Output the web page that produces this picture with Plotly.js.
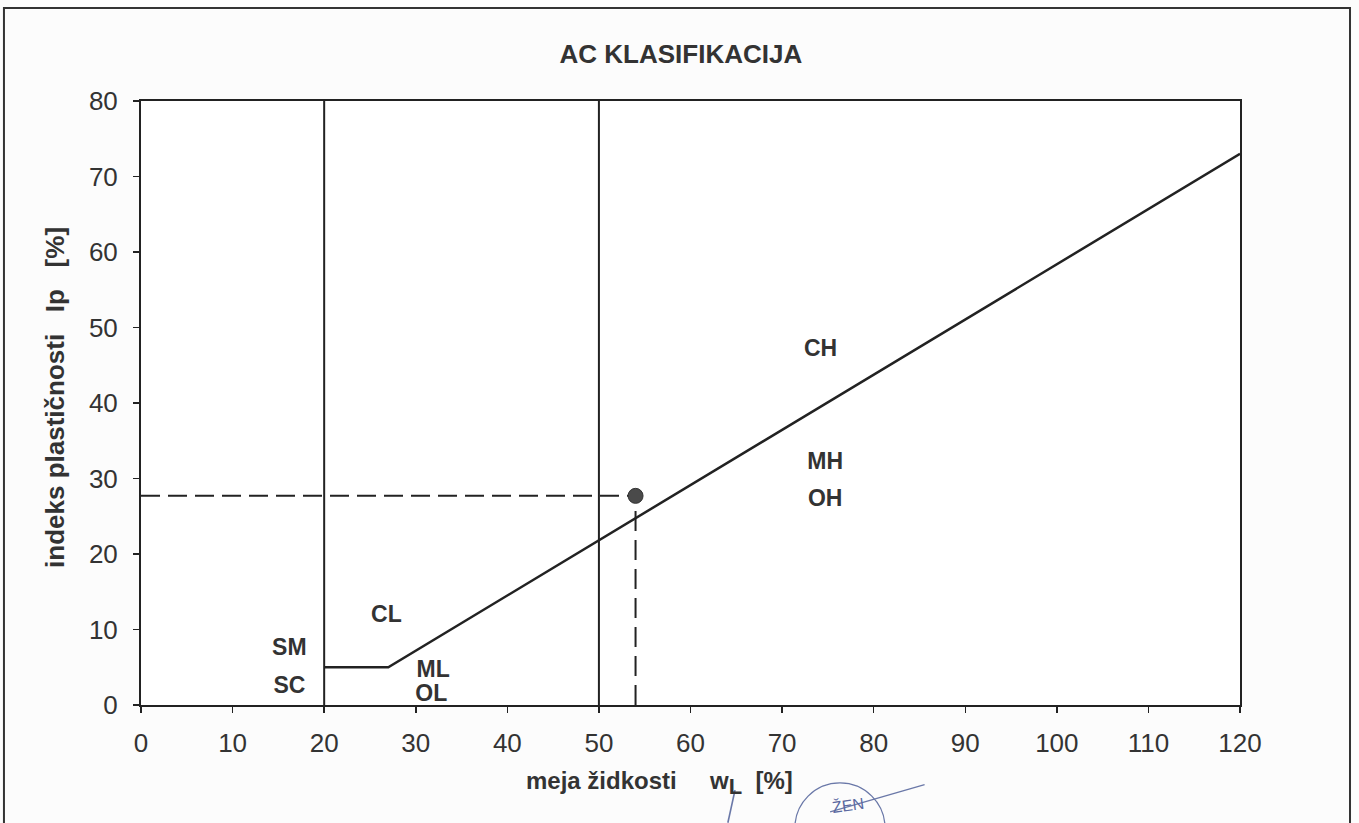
<!DOCTYPE html>
<html><head><meta charset="utf-8">
<script src="https://cdn.plot.ly/plotly-3.0.1.min.js"></script>
<style>html,body{margin:0;padding:0;background:#fcfcfc;}</style>
</head><body><div id="chart" style="width:1359px;height:823px;"></div>
<script>
// A-line (CL / ML boundary)
const aLineX = [20, 27, 120];
const aLineY = [5, 5, 73];
// Vertical boundaries wL = 20 and wL = 50
const v20X = [20, 20];
const v20Y = [0, 80];
const v50X = [50, 50];
const v50Y = [0, 80];
// Sample point
const sampleWL = [54];
const sampleIP = [27.7];
// Guide (dashed) lines
const guideHX = [0, 54];
const guideHY = [27.7, 27.7];
const guideVX = [54, 54];
const guideVY = [0, 27.7];
// Zone labels
const zoneText = ['CH', 'MH', 'OH', 'CL', 'SM', 'SC', 'ML', 'OL'];
const zoneX = [74.2, 74.7, 74.7, 26.8, 16.2, 16.2, 31.9, 31.7];
const zoneY = [47.0, 32.0, 27.1, 11.8, 7.4, 2.3, 4.5, 1.3];
const xTicks = [0, 10, 20, 30, 40, 50, 60, 70, 80, 90, 100, 110, 120];
const yTicks = [0, 10, 20, 30, 40, 50, 60, 70, 80];

const FONT = 'Liberation Sans, Arial, sans-serif';
const lineColor = '#222';
const textColor = '#333';
const traces = [
  {x: v20X, y: v20Y, mode: 'lines', line: {color: lineColor, width: 2}, hoverinfo: 'skip'},
  {x: v50X, y: v50Y, mode: 'lines', line: {color: lineColor, width: 2}, hoverinfo: 'skip'},
  {x: aLineX, y: aLineY, mode: 'lines', line: {color: lineColor, width: 2.5}, hoverinfo: 'skip'},
  {x: guideHX, y: guideHY, mode: 'lines', line: {color: lineColor, width: 2, dash: '19px,8px'}, hoverinfo: 'skip'},
  {x: guideVX, y: guideVY, mode: 'lines', line: {color: lineColor, width: 2, dash: '20px,9px'}, hoverinfo: 'skip'},
  {x: sampleWL, y: sampleIP, mode: 'markers', marker: {color: '#4a4a4a', size: 15, line: {color: '#333', width: 1}}},
  {x: zoneX, y: zoneY, mode: 'text', text: zoneText.map(t => '<b>' + t + '</b>'),
   textfont: {family: FONT, size: 23, color: textColor}, textposition: 'middle center', hoverinfo: 'skip'}
];

const layout = {
  width: 1359, height: 823,
  paper_bgcolor: '#fcfcfc', plot_bgcolor: '#ffffff',
  showlegend: false,
  margin: {l: 141, r: 119, t: 101, b: 118},
  font: {family: FONT, color: textColor},
  title: {text: '<b>AC KLASIFIKACIJA</b>', x: 0.501, xanchor: 'center', y: 0.934, yanchor: 'middle',
          font: {size: 26, color: textColor, family: FONT}},
  xaxis: {
    range: [0, 120], tickvals: xTicks, ticktext: xTicks.map(String),
    showgrid: false, zeroline: false, showline: true, linecolor: lineColor, linewidth: 2, mirror: true,
    ticks: 'outside', ticklen: 6, tickcolor: lineColor, tickwidth: 1.5,
    ticklabelstandoff: 8,
    tickfont: {size: 26, color: textColor}
  },
  yaxis: {
    range: [0, 80], tickvals: yTicks, ticktext: yTicks.map(String),
    showgrid: false, zeroline: false, showline: true, linecolor: lineColor, linewidth: 2, mirror: true,
    ticks: 'outside', ticklen: 6, tickcolor: lineColor, tickwidth: 1.5,
    ticklabelstandoff: 10,
    tickfont: {size: 26, color: textColor}
  },
  annotations: [
    {xref: 'paper', yref: 'paper', x: -0.0783, y: 0.51, xanchor: 'center', yanchor: 'middle',
     textangle: -90, showarrow: false,
     text: '<b>indeks plastičnosti   Ip   [%]</b>', font: {size: 26, color: textColor, family: FONT}},
    {xref: 'paper', yref: 'paper', x: 0.3485, y: -0.129, xanchor: 'left', yanchor: 'middle',
     showarrow: false,
     text: '<b>meja židkosti     w<sub><span style="font-size:22px">L</span></sub>  [%]</b>',
     font: {size: 24, color: textColor, family: FONT}},
    {xref: 'paper', yref: 'paper', x: 0.643, y: -0.165, xanchor: 'center', yanchor: 'middle',
     showarrow: false, textangle: -8, text: 'ŽEN', font: {size: 16, color: '#5a68a0', family: FONT}}
  ],
  shapes: [
    {type: 'rect', xref: 'paper', yref: 'paper', x0: -0.1247, x1: 1.1001, y0: -0.35, y1: 1.154,
     line: {color: '#333', width: 2}, layer: 'below'},
    {type: 'circle', xref: 'paper', yref: 'paper', x0: 0.595, x1: 0.677, y0: -0.278, y1: -0.129,
     line: {color: '#6a78a8', width: 1.3}},
    {type: 'line', xref: 'paper', yref: 'paper', x0: 0.627, x1: 0.713, y0: -0.177, y1: -0.132,
     line: {color: '#6a78a8', width: 1.3}},
    {type: 'line', xref: 'paper', yref: 'paper', x0: 0.5405, x1: 0.534, y0: -0.141, y1: -0.195,
     line: {color: '#6a78a8', width: 1.6}}
  ]
};

Plotly.newPlot('chart', traces, layout, {displayModeBar: false, staticPlot: true});
</script>
</body></html>
